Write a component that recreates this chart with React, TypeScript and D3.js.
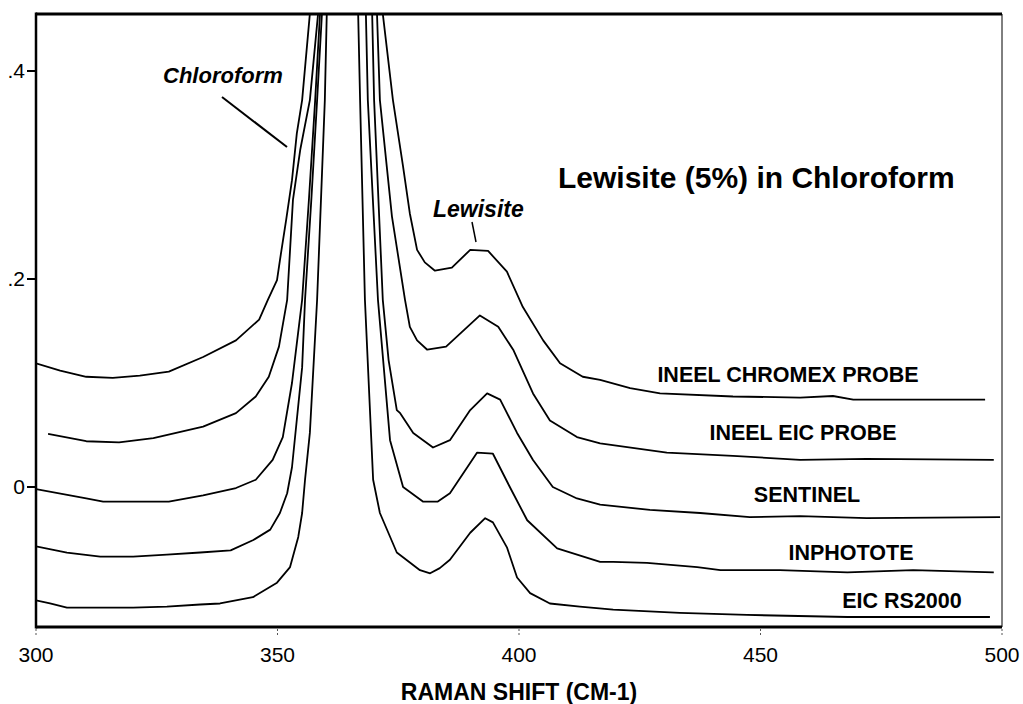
import React from "react";
import * as d3 from "d3";

type Pt = [number, number];

// Raman shift (cm-1) vs intensity
const chromex: Pt[] = [
  [300, 0.119], [305, 0.112], [310.4, 0.106], [315.9, 0.105], [321.5, 0.107], [327.5, 0.111],
  [334.6, 0.125], [341.4, 0.141], [346.2, 0.161], [348, 0.18], [349.9, 0.199], [350.5, 0.218],
  [351.8, 0.257], [353, 0.295], [354, 0.34], [355.1, 0.372], [356.7, 0.455], [364, 1.2],
  [371.8, 0.455], [373.9, 0.372], [376, 0.308], [377.4, 0.263], [378.9, 0.228], [380.5, 0.216],
  [382.6, 0.208], [386.1, 0.211], [389.9, 0.228], [393.6, 0.227], [397.5, 0.207], [400.8, 0.173],
  [405, 0.141], [408.5, 0.119], [413.2, 0.106], [416.8, 0.103], [423, 0.095], [429.2, 0.09],
  [444.3, 0.087], [458.2, 0.086], [465, 0.0875], [469.2, 0.084], [478.9, 0.084], [496.5, 0.084],
];

const eicProbe: Pt[] = [
  [302.5, 0.051], [310.4, 0.044], [317.2, 0.043], [324.3, 0.047], [334.6, 0.058], [341.4, 0.071],
  [345.5, 0.087], [348.2, 0.106], [350.3, 0.135], [352, 0.18], [353.2, 0.276], [354.7, 0.324],
  [356.7, 0.372], [358.4, 0.455], [364, 1.2],
  [370.6, 0.455], [371.2, 0.372], [373.7, 0.26], [376.4, 0.18], [377.4, 0.154], [378.9, 0.141],
  [381, 0.132], [384.9, 0.135], [391.9, 0.165], [395.7, 0.154], [398.8, 0.132], [402.9, 0.09],
  [406.4, 0.064], [412, 0.048], [416.8, 0.042], [430.6, 0.033], [444.3, 0.03], [458.2, 0.026],
  [472, 0.027], [498.3, 0.026],
];

const sentinel: Pt[] = [
  [300, -0.002], [310.4, -0.011], [313.9, -0.014], [320.7, -0.014], [327.5, -0.014], [334.6, -0.008],
  [341.4, -0.001], [345.5, 0.007], [349, 0.026], [351.1, 0.048], [353, 0.1], [355.1, 0.18],
  [356.5, 0.276], [357.8, 0.372], [358.8, 0.455], [364, 1.2],
  [369.6, 0.455], [370, 0.372], [371.8, 0.18], [373, 0.122], [374.7, 0.074], [375.4, 0.071],
  [378.1, 0.052], [382.2, 0.038], [385.7, 0.045], [389.9, 0.074], [393.4, 0.09], [396.1, 0.084],
  [399.6, 0.052], [402.9, 0.026], [407, 0.0], [412, -0.011], [416.8, -0.017], [427.1, -0.022],
  [437.5, -0.025], [447.8, -0.029], [458.2, -0.028], [472, -0.03], [499.6, -0.029],
];

const inphotote: Pt[] = [
  [300, -0.057], [306.4, -0.063], [313.3, -0.067], [320.1, -0.067], [327.1, -0.065], [334, -0.063],
  [340.3, -0.061], [345, -0.051], [348.5, -0.041], [350.5, -0.025], [352, -0.006], [353, 0.019],
  [355.1, 0.115], [355.7, 0.18], [357, 0.276], [358.2, 0.372], [359.2, 0.455], [364, 1.2],
  [368.3, 0.455], [368.7, 0.372], [370.8, 0.18], [373.3, 0.045], [376, 0.0], [380.1, -0.014],
  [383.2, -0.014], [385.7, -0.006], [391.3, 0.033], [394.6, 0.032], [398.1, 0.0], [401.7, -0.032],
  [407.9, -0.059], [416.8, -0.072], [419.5, -0.072], [426.5, -0.073], [436.9, -0.077],
  [441.7, -0.08], [454, -0.08], [468, -0.082], [481.6, -0.08], [498.3, -0.082],
];

const rs2000: Pt[] = [
  [300, -0.109], [302.9, -0.112], [306.4, -0.116], [313.3, -0.116], [320.1, -0.116], [327.1, -0.115],
  [334, -0.113], [338.1, -0.112], [344.9, -0.106], [349.9, -0.092], [352.6, -0.077], [354.3, -0.048],
  [355.1, -0.025], [355.7, 0.007], [356.7, 0.052], [358.2, 0.18], [359.8, 0.372], [360.2, 0.455],
  [364, 1.2],
  [366.7, 0.455], [367.1, 0.372], [368.1, 0.18], [369.8, 0.007], [371.2, -0.025], [374.7, -0.063],
  [379.5, -0.08], [381.6, -0.083], [383.6, -0.078], [385.7, -0.07], [389.9, -0.044], [393, -0.03],
  [394.6, -0.034], [397.5, -0.058], [399.6, -0.087], [402.3, -0.102], [406.4, -0.112],
  [412.6, -0.115], [419.5, -0.118], [433.3, -0.121], [447.2, -0.123], [468, -0.125],
  [481.6, -0.125], [497.5, -0.125],
];

const seriesList: Pt[][] = [chromex, eicProbe, sentinel, inphotote, rs2000];
const seriesLabels = ["INEEL CHROMEX PROBE", "INEEL EIC PROBE", "SENTINEL", "INPHOTOTE", "EIC RS2000"];

const xDomain: [number, number] = [300, 500];
const yDomain: [number, number] = [0, 0.4];
const xTicks = [300, 350, 400, 450, 500];
const yTicks = [0, 0.2, 0.4];
const yTickLabels = ["0", ".2", ".4"];

const title = "Lewisite (5%) in Chloroform";
const xTitle = "RAMAN SHIFT (CM-1)";

export default function App() {
  const W = 1023, H = 704;
  const left = 36, right = 1002, top = 14, bottom = 627;
  const x = d3.scaleLinear().domain(xDomain).range([left, right]);
  const y = d3.scaleLinear().domain(yDomain).range([487, 71]);
  const line = d3.line<Pt>().x((d) => x(d[0])).y((d) => y(d[1])).curve(d3.curveLinear);

  const labelPos = [
    [788, 382], [803, 440], [807, 502], [851, 560], [902, 608],
  ];

  return (
    <svg width={W} height={H} style={{ position: "absolute", left: 0, top: 0, background: "#fff" }}
      fontFamily="'Liberation Sans', Arial, sans-serif">
      <defs>
        <clipPath id="plotclip">
          <rect x={left} y={top} width={right - left} height={bottom - top} />
        </clipPath>
      </defs>
      <rect x={0} y={0} width={W} height={H} fill="#fff" />
      <g clipPath="url(#plotclip)">
        {seriesList.map((s, i) => (
          <path key={i} d={line(s) || ""} fill="none" stroke="#000" strokeWidth={1.8} strokeLinejoin="round" />
        ))}
      </g>
      {/* frame */}
      <line x1={left} x2={right} y1={top} y2={top} stroke="#000" strokeWidth={3} />
      <line x1={left} x2={left} y1={top - 1.5} y2={bottom + 1.5} stroke="#000" strokeWidth={2.5} />
      <line x1={left} x2={right} y1={bottom} y2={bottom} stroke="#000" strokeWidth={3} />
      <line x1={right} x2={right} y1={top} y2={bottom} stroke="#000" strokeWidth={1} />
      {/* y ticks */}
      {yTicks.map((t, i) => (
        <g key={t}>
          <line x1={left - 9} x2={left} y1={y(t)} y2={y(t)} stroke="#000" strokeWidth={2} />
          <text x={left - 11} y={y(t)} dy="0.35em" textAnchor="end" fontSize={21}>{yTickLabels[i]}</text>
        </g>
      ))}
      {/* x ticks */}
      {xTicks.map((t) => (
        <g key={t}>
          <line x1={x(t)} x2={x(t)} y1={bottom + 2} y2={bottom + 10} stroke="#555" strokeWidth={1} strokeDasharray="2,2" />
          <text x={x(t)} y={662} textAnchor="middle" fontSize={21}>{t}</text>
        </g>
      ))}
      <text x={519} y={700} textAnchor="middle" fontSize={23} fontWeight="bold">{xTitle}</text>
      <text x={558} y={188} fontSize={30} fontWeight="bold">{title}</text>
      {seriesLabels.map((l, i) => (
        <text key={l} x={labelPos[i][0]} y={labelPos[i][1]} textAnchor="middle" fontSize={21.5} fontWeight="bold">{l}</text>
      ))}
      <text x={163} y={83} fontSize={22} fontWeight="bold" fontStyle="italic">Chloroform</text>
      <line x1={222} y1={97} x2={287} y2={147} stroke="#000" strokeWidth={2} />
      <text x={433} y={217} fontSize={23} fontWeight="bold" fontStyle="italic">Lewisite</text>
      <line x1={472} y1={222} x2={476} y2={242} stroke="#000" strokeWidth={1.5} />
    </svg>
  );
}
